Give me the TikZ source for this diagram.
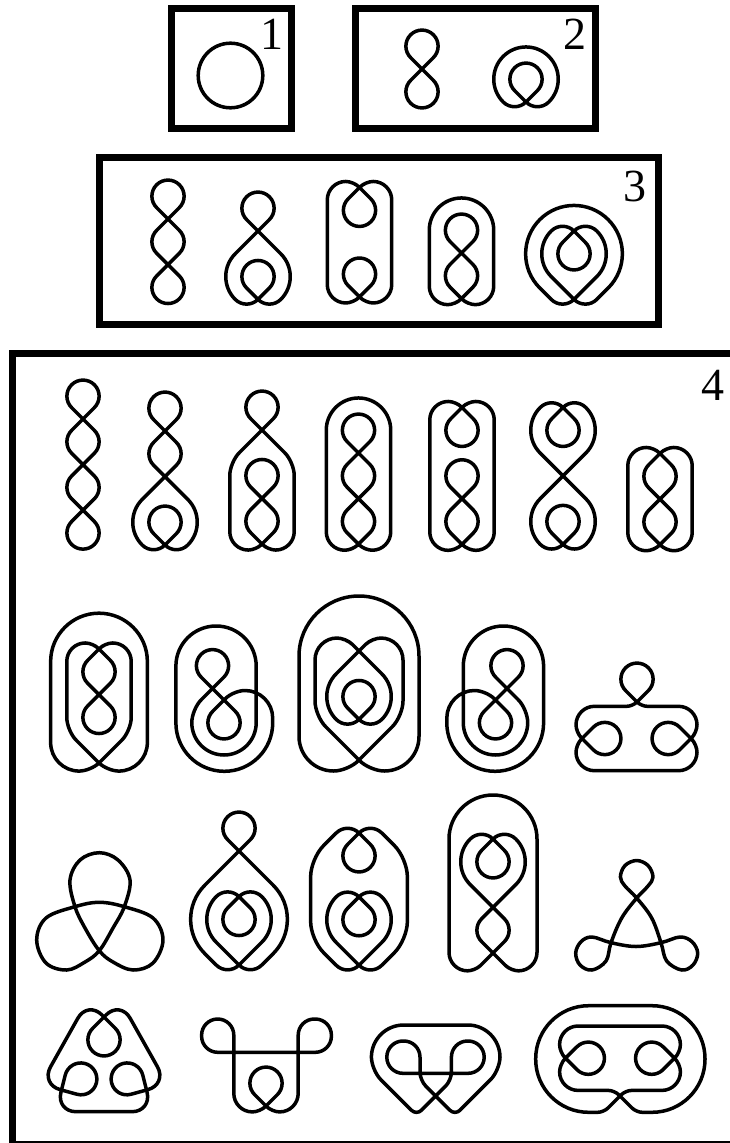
\documentclass[tikz,border=0pt]{standalone}
\usepackage{fontspec}
\setmainfont{Liberation Serif}
\begin{document}
\begin{tikzpicture}[x=1pt,y=-1pt,
    frame/.style={line width=7pt},
    num/.style={inner sep=0pt,font=\fontsize{46}{46}\selectfont},
    rope/.style={line width=3.5pt,line join=round},
    knot/.style={rope,line cap=round,rounded corners=16.12pt},
    fig/.style 2 args={shift={(#1,#2)},x=22.8pt,y=-22.8pt},
    rc/.style={rounded corners=#1pt},
    sm/.style={rc=16.12},
    bg/.style={rc=32.24},
    xl/.style={rc=48.36},
    md/.style={rc=13.36},
    lb/.style={rc=18.5},
    lt/.style={rc=7.66},
    lbb/.style={rc=28.5},
    ltt/.style={rc=11.8}]
\useasboundingbox (0,0) rectangle (730,1143);
\draw[frame](171.5,8)rectangle(291.5,128);
\draw[frame](355.5,8)rectangle(595.5,128);
\draw[frame](99.5,157.5)rectangle(658.5,324.5);
\draw[frame](12.5,353)rectangle(745,1144.5);
\foreach \n/\x/\y in {1/272/34,2/575/34,3/635/186,4/713/385}
{
    \node[num] (num\n) at (\x,\y) {\n};
}

\draw[knot] (230.5,75.5) circle (32.3);
\draw[knot,fig={422}{69}] (0,0)--(1,-1)--(0,-2)--(-1,-1)--(1,1)--(0,2)--(-1,1)--(0,0);
\draw[knot,fig={526}{102}] (0,0)--(1,-1)--(0,-2)--(-1,-1)--(.5,.5)[bg]--(2,-1)--(0,-3)--(-2,-1)[sm]--(-.5,.5)--(0,0);

\draw[knot,fig={168}{219}] (0,0)--(1,-1)--(0,-2)--(-1,-1)--(1,1)--(-1,3)--(0,4)--(1,3)--(-1,1)--(0,0);
\draw[knot,fig={258}{231}] (0,0)--(1,-1)--(0,-2)--(-1,-1)[bg]--(2,2)[sm]--(.5,3.5)--(-1,2)--(0,1)--(1,2)--(-.5,3.5)[bg]--(-2,2)--(0,0);
\draw[knot,fig={359.5}{187.5}] (0,0)--(1,1)--(0,2)--(-1,1)[lt]--(.265,-.265)[lb]--(1.414,-.265)--(1.414,5.065)[lt]--(.265,5.065)[sm]--(-1,3.8)--(0,2.8)--(1,3.8)[lt]--(-.265,5.065)[lb]--(-1.414,5.065)--(-1.414,-.265)[lt]--(-.265,-.265)--(0,0);
\draw[knot,fig={461.5}{253}] (0,0)--(1,-1)--(0,-2)--(-1,-1)--(1,1)[lt]--(-.265,2.265)[lb]--(-1.414,2.265)[bg]--(-1.414,-2.414)--(1.414,-2.414)[lb]--(1.414,2.265)[lt]--(.265,2.265)[sm]--(-1,1)--(0,0);
\draw[knot,fig={574}{231}] (0,0)--(1,1)--(0,2)--(-1,1)--(.5,-.5)[bg]--(2,1)[sm]--(-.5,3.5)[xl]--(-3,1)--(0,-2)--(3,1)[sm]--(.5,3.5)[bg]--(-2,1)[sm]--(-.5,-.5)--(0,0);

\draw[knot,fig={83}{419}] (0,0)--(1,-1)--(0,-2)--(-1,-1)--(1,1)--(-1,3)--(1,5)--(0,6)--(-1,5)--(1,3)--(-1,1)--(0,0);
\draw[knot,fig={165}{431}] (0,0)--(1,-1)--(0,-2)--(-1,-1)--(1,1)[bg]--(-2,4)[sm]--(-.5,5.5)--(1,4)--(0,3)--(-1,4)--(.5,5.5)[bg]--(2,4)[sm]--(-1,1)--(0,0);
\draw[knot,fig={262}{430}] (0,0)--(1,-1)--(0,-2)--(-1,-1)[md]--(1.414,1.414)[lb]--(1.414,5.265)[lt]--(.265,5.265)[sm]--(-1,4)--(1,2)--(0,1)--(-1,2)--(1,4)[lt]--(-.265,5.265)[lb]--(-1.414,5.265)[md]--(-1.414,1.414)--(0,0);
\draw[knot,fig={358.5}{453}] (0,0)--(1,-1)--(0,-2)--(-1,-1)--(1,1)--(-1,3)[lt]--(.265,4.265)[lb]--(1.414,4.265)[bg]--(1.414,-2.414)--(-1.414,-2.414)[lb]--(-1.414,4.265)[lt]--(-.265,4.265)[sm]--(1,3)--(-1,1)--(0,0);
\draw[knot,fig={462}{407.5}] (0,0)--(1,1)--(0,2)--(-1,1)[lt]--(.265,-.265)[lb]--(1.414,-.265)--(1.414,6.265)[lt]--(.265,6.265)[sm]--(-1,5)--(1,3)--(0,2)--(-1,3)--(1,5)[lt]--(-.265,6.265)[lb]--(-1.414,6.265)--(-1.414,-.265)[lt]--(-.265,-.265)--(0,0);
\draw[knot,fig={563}{407.5}] (0,0)--(1,1)--(0,2)--(-1,1)--(.5,-.5)[bg]--(2,1)--(-2,5)[sm]--(-.5,6.5)--(1,5)--(0,4)--(-1,5)--(.5,6.5)[bg]--(2,5)--(-2,1)[sm]--(-.5,-.5)--(0,0);
\draw[knot,fig={660}{453.5}] (0,0)--(1,1)--(-1,3)[lt]--(.265,4.265)[lb]--(1.414,4.265)--(1.414,-.265)[lt]--(.265,-.265)[sm]--(-1,1)--(1,3)[lt]--(-.265,4.265)[lb]--(-1.414,4.265)--(-1.414,-.265)[lt]--(-.265,-.265)--(0,0);

\draw[knot,fig={99}{649}] (0,0)--(1,1)--(-1,3)--(0,4)--(1,3)--(-1,1)[lt]--(.265,-.265)[lb]--(1.414,-.265)[md]--(1.414,3.586)[ltt]--(-.354,5.354)[lbb]--(-2.121,5.354)[xl]--(-2.121,-1.571)--(2.121,-1.571)[lbb]--(2.121,5.354)[ltt]--(.354,5.354)[md]--(-1.414,3.586)[lb]--(-1.414,-.265)[lt]--(-.265,-.265)--(0,0);
\foreach \s/\d in {1/0,-1/719.5}
{
    \draw[knot,shift={(\d,0)},xscale=\s] (212.5,688.5)--(235.3,665.7)--(212.5,642.9)--(189.7,665.7)--(246.8,722.8)--(224,745.6)--(201.2,722.8)[rc=11.4]--(233.5,690.5)[rc=27.6]--(272.7,690.5)[xl]--(272.7,771.3)--(175.9,771.3)[rc=40.1]--(175.9,626)--(256.2,626)[bg]--(256.2,755)--(191.8,755)[rc=13.3]--(191.8,709.2)--(212.5,688.5);
}
\draw[knot] (359,719.4)--(381.8,696.6)--(359,673.8)--(336.2,696.6)--(370.4,730.8)[bg]--(404.6,696.6)[rc=9.1]--(346,638)[rc=22]--(315,638)[rc=15]--(315,716)[rc=14.3]--(370,771)[rc=34.6]--(419,771)[rc=60]--(419,596)--(299,596)[rc=34.6]--(299,771)[rc=14.3]--(348,771)[rc=15]--(403,716)[rc=22]--(403,638)[rc=9.1]--(372,638)[bg]--(313.4,696.6)[sm]--(347.6,730.8)--(359,719.4);
\draw[knot] (637,702)--(659.8,679.2)--(637,656.4)--(614.2,679.2)[rc=6]--(641.3,706.3)[lb]--(697,706.3)[lt]--(697,732.5)[sm]--(668.2,761.3)--(645.4,738.5)--(668.2,715.7)[lt]--(697,744.5)[lb]--(697,770.7)--(576,770.7)[lt]--(576,744.5)[sm]--(604.8,715.7)--(627.6,738.5)--(604.8,761.3)[lt]--(576,732.5)[lb]--(576,706.3)[rc=6]--(632.7,706.3)--(637,702);

\draw[rope] plot[smooth cycle,tension=.6] coordinates {(99.3,950.7)(113,928)(124.3,906.7)(130,880)(118,860)(99.3,852.7)(80,860)(70,880)(75,906.7)(85,928)(99.3,950.7)(113,962)(133,970)(153,963)(163,940)(153,918)(124.3,906.7)(99.3,902.3)(75,906.7)(46,918)(36.7,940)(46,963)(66.7,970)(85,962)};
\draw[knot,fig={239}{851}] (0,0)--(1,-1)--(0,-2)--(-1,-1)[xl]--(3,3)[sm]--(.5,5.5)[bg]--(-2,3)[sm]--(-.5,1.5)--(1,3)--(0,4)--(-1,3)--(.5,1.5)[bg]--(2,3)[sm]--(-.5,5.5)[xl]--(-3,3)--(0,0);
\draw[knot,fig={359}{833}] (0,0)--(1,1)--(0,2)--(-1,1)--(.5,-.5)[rc=18]--(2.121,1.121)--(2.121,4.679)[sm]--(.5,6.3)[bg]--(-2,3.8)[sm]--(-.5,2.3)--(1,3.8)--(0,4.8)--(-1,3.8)--(.5,2.3)[bg]--(2,3.8)[sm]--(-.5,6.3)[rc=18]--(-2.121,4.679)--(-2.121,1.121)[sm]--(-.5,-.5)--(0,0);
\draw[knot,fig={493}{839}] (0,0)--(1,1)--(0,2)--(-1,1)--(.5,-.5)[bg]--(2,1)[sm]--(-1,4)[lt]--(.782,5.782)[lb]--(1.93,5.782)[rc=44]--(1.93,-1.93)--(-1.93,-1.93)[lb]--(-1.93,5.782)[lt]--(-.782,5.782)[sm]--(1,4)[bg]--(-2,1)[sm]--(-.5,-.5)--(0,0);
\draw[rope] plot[smooth cycle,tension=.6] coordinates {(636.7,898)(651.7,918)(661,942.7)(666.7,961)(681.7,970)(693,965)(697.7,953)(692,941.7)(680,937)(661,942.7)(636,946.5)(611,942.7)(592,937)(581,941.7)(575.7,953)(580,965)(592,970)(606,961)(611,942.7)(621.7,918)(636.7,898)(648,886)(653,877)(648,865.5)(636.7,860.5)(625,865.5)(620.4,877)(625,886)};

\draw[knot] (104,1017)--(126.8,1039.8)--(104,1062.6)--(81.2,1039.8)[rc=20]--(120.3,1000.7)--(167.3,1084.3)[sm]--(115.5,1098.5)--(107.7,1067.3)--(138.9,1059.5)[rc=20]--(151.9,1111.7)--(56.1,1111.7)[sm]--(69.1,1059.5)--(100.3,1067.3)--(92.5,1098.5)[rc=20]--(40.7,1084.3)--(87.7,1000.7)--(104,1017);
\draw[knot] (266,1106)--(288.8,1083.2)--(266,1060.4)--(243.2,1083.2)[lt]--(271.9,1111.9)[lb]--(298.2,1111.9)[sm]--(298.2,1019)--(331.4,1019)--(331.4,1052.3)--(201.6,1052.3)--(201.6,1019)--(233.8,1019)[lb]--(233.8,1111.9)[lt]--(260.1,1111.9)--(266,1106);
\draw[knot] (435.7,1096)[rc=8]--(451.4,1080.3)[sm]--(451.4,1041)--(484.2,1041)--(484.2,1073.3)--(386.8,1073.3)--(386.8,1041)--(420,1041)[rc=8]--(420,1080.3)[rc=7]--(454.95,1115.25)[rc=13.3]--(500,1070.2)[bg]--(500,1025)--(371.4,1025)[rc=13.3]--(371.4,1070.2)[rc=7]--(416.45,1115.25)--(435.7,1096);
\draw[knot] (620,1096)[rc=6]--(603.7,1112.3)[rc=53]--(535.7,1112.3)--(535.7,1005.7)--(705,1005.7)--(705,1112.3)[rc=6]--(636.3,1112.3)--(614.4,1090.4)[lb]--(559.6,1090.4)[lt]--(559.6,1064.1)[sm]--(588.3,1035.4)--(611.1,1058.2)--(588.3,1081)[lt]--(559.6,1052.3)[lb]--(559.6,1026)--(680.4,1026)[lt]--(680.4,1052.3)[sm]--(651.7,1081)--(628.9,1058.2)--(651.7,1035.4)[lt]--(680.4,1064.1)[lb]--(680.4,1090.4)[rc=6]--(625.6,1090.4)--(620,1096);

\end{tikzpicture}
\end{document}
